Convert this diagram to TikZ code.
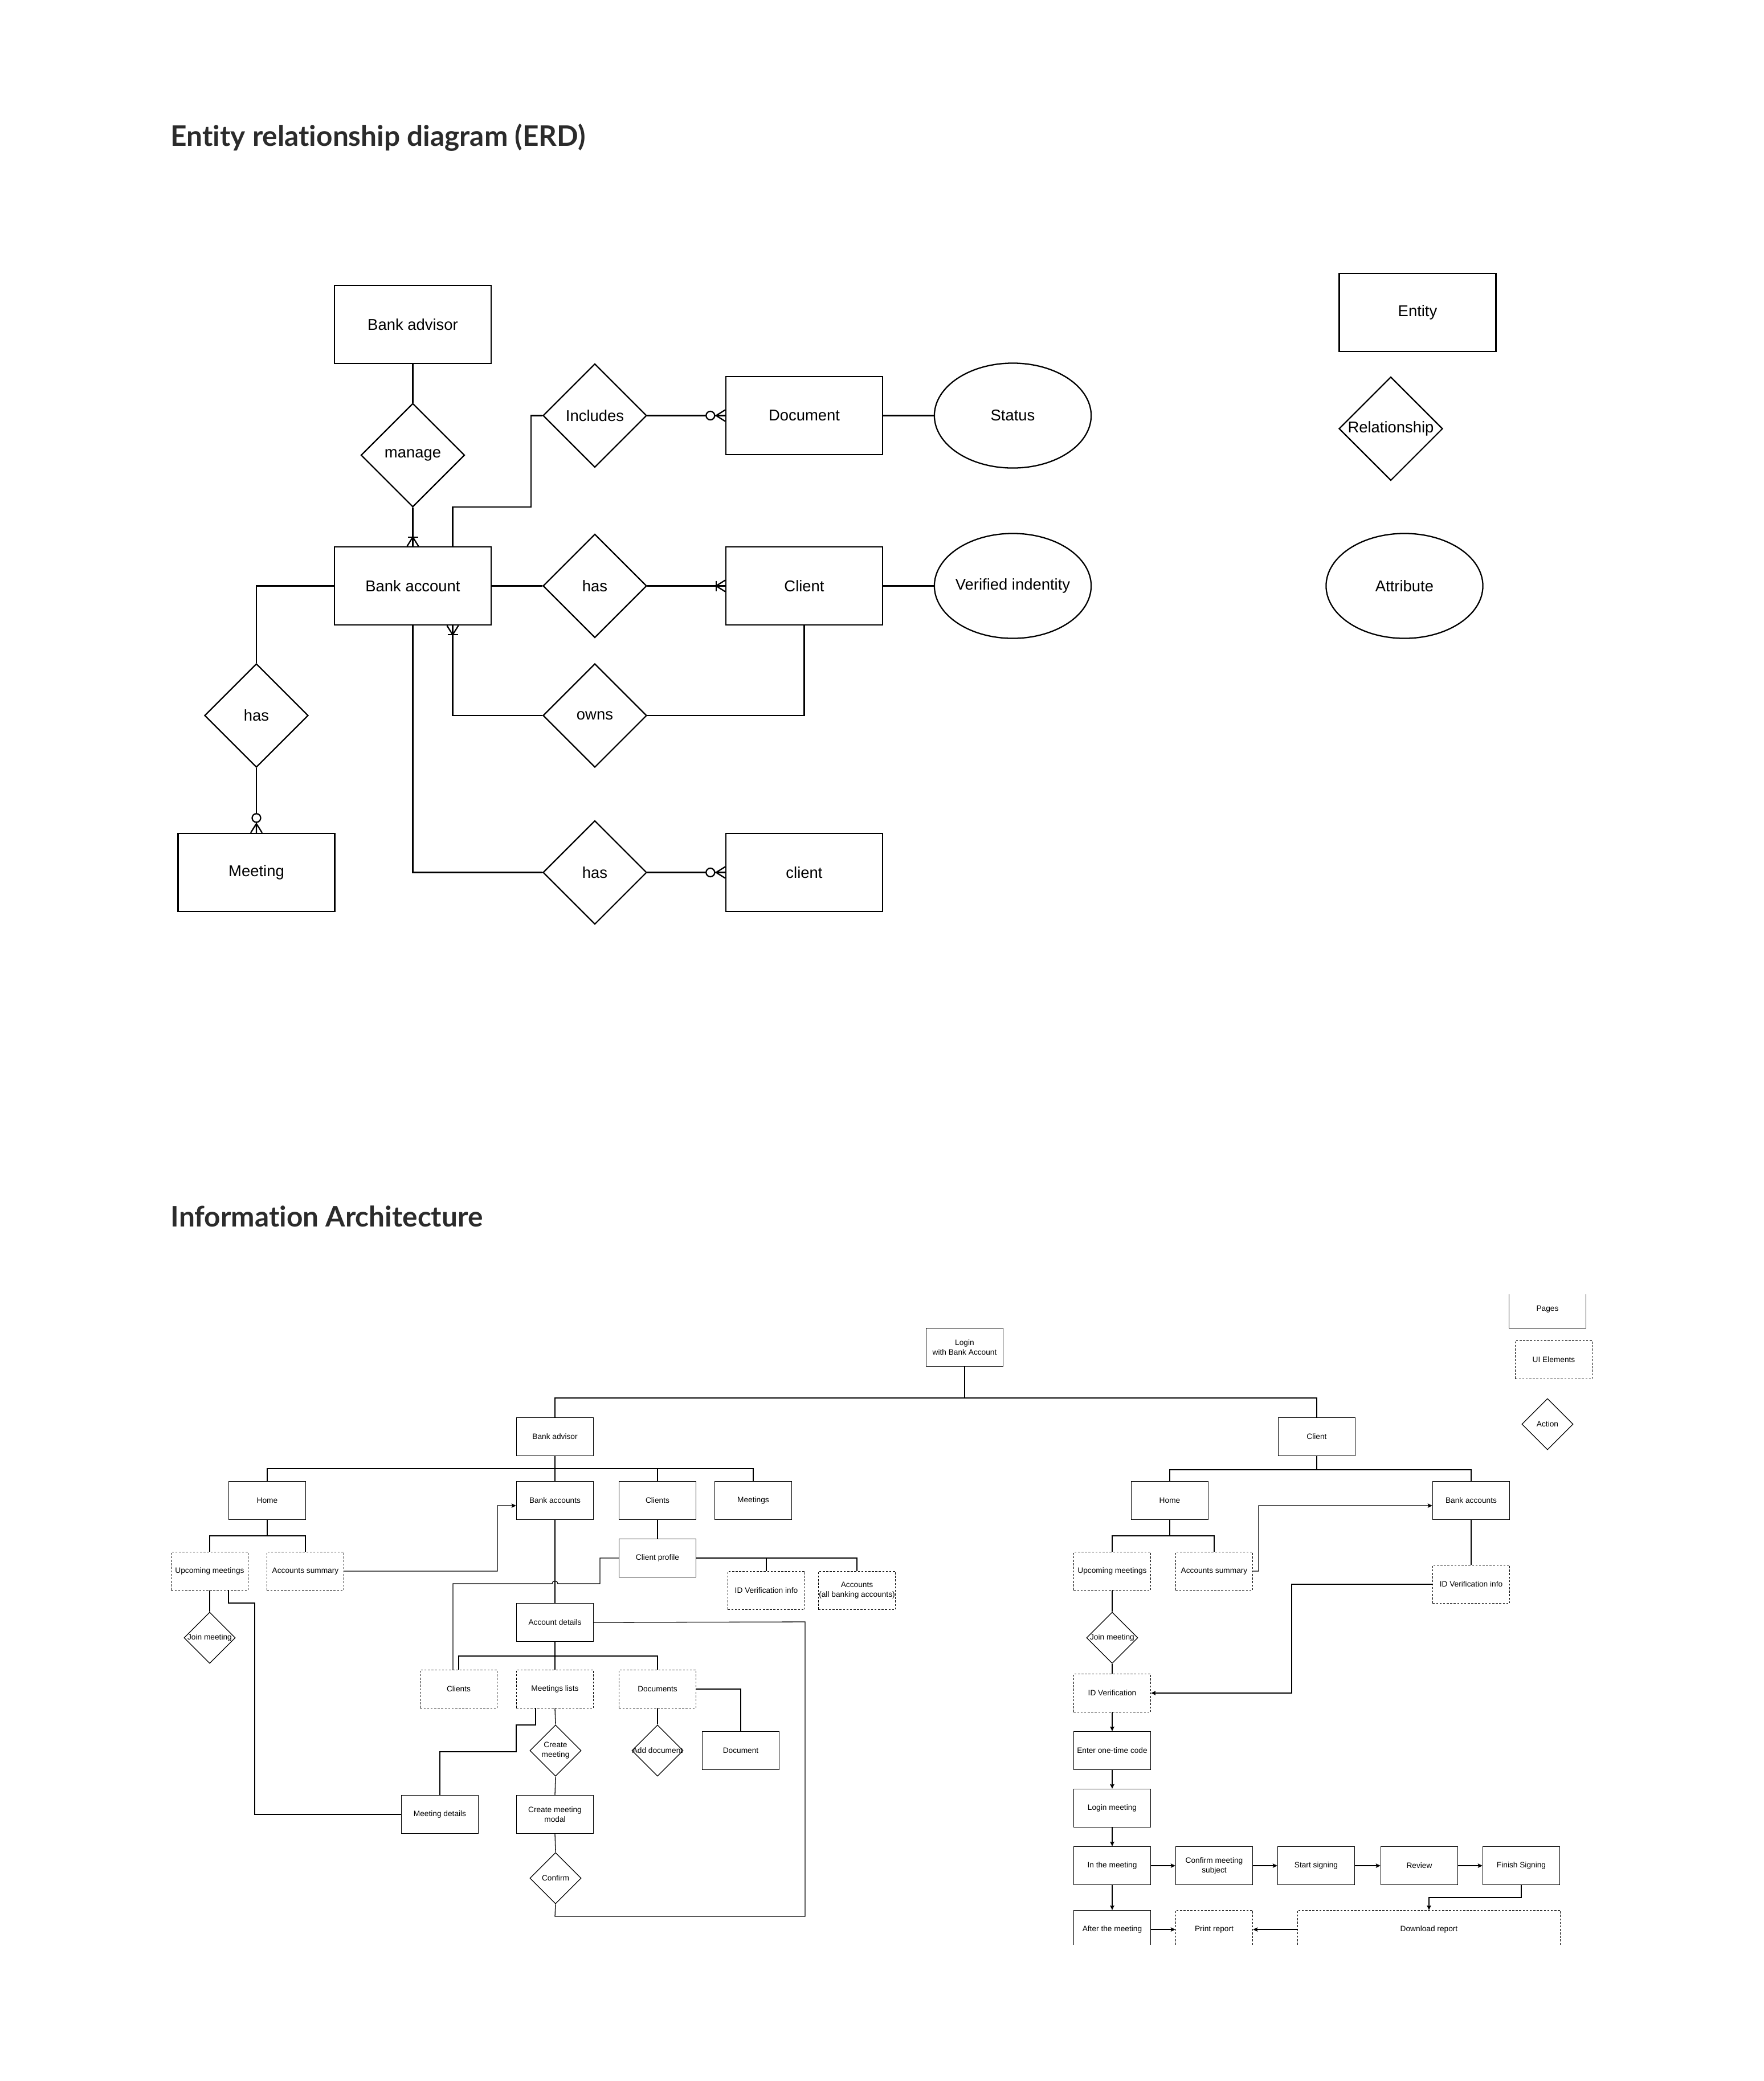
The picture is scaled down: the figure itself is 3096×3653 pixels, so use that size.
\documentclass[tikz,border=0pt]{standalone}
\usepackage{fontspec}
\setmainfont{Liberation Sans}
\newfontfamily\titlefont{Lato}[Ligatures=NoCommon]
\usetikzlibrary{shapes.geometric,arrows.meta,calc}
\newcommand{\zw}[1]{\makebox[0pt]{#1}}
\definecolor{titlegray}{HTML}{2B2B2B}
\begin{document}
\begin{tikzpicture}[x=0.01cm,y=-0.01cm,
 erdline/.style={line width=0.65pt},
 erdfont/.style={font=\fontsize{7.8pt}{9.4pt}\selectfont},
 ent/.style={draw, line width=0.65pt, minimum width=2.75cm, minimum height=1.37cm, inner sep=0pt, erdfont},
 rel/.style={draw, line width=0.65pt, diamond, minimum width=1.82cm, minimum height=1.82cm, inner sep=0pt, erdfont},
 att/.style={draw, line width=0.65pt, ellipse, minimum width=2.75cm, minimum height=1.84cm, inner sep=0pt, erdfont},
 ia/.style={line width=0.37pt},
 iarr/.style={ia, -{Stealth[length=0.08cm,width=0.075cm,inset=0.012cm]}},
 iafont/.style={font=\fontsize{3.9pt}{4.85pt}\selectfont},
 page/.style={draw, line width=0.37pt, minimum width=1.35cm, minimum height=0.67cm, inner sep=0pt, align=center, iafont},
 uiel/.style={page, dash pattern=on 1pt off 0.75pt},
 act/.style={draw, diamond, line width=0.37pt, minimum width=0.9cm, minimum height=0.9cm, inner sep=0pt, iafont},
 ttl/.style={anchor=base west, inner sep=0pt, font=\titlefont\bfseries\fontsize{14.1pt}{17pt}\selectfont, text=titlegray},
 crow/.pic={\draw[erdline] (0,-10) -- (-16,0) -- (0,10) (-16,0) -- (0,0);},
 onebar/.pic={\draw[erdline] (-16,-9) -- (-16,9);},
 zcirc/.pic={\draw[erdline, fill=white] (-26,0) circle[radius=7.5];}
]
\fill[white] (0,0) rectangle (3096,3653);
\useasboundingbox (0,0) rectangle (3096,3653);

% ---------------- Titles ----------------
\node[ttl] (t1) at (299,256) {Entity relationship diagram (ERD)};
\node[ttl] (t2) at (299,2153) {Information Architecture};

% ---------------- ERD ----------------
\node[ent] (badv0) at (724.5,569.5) {Bank advisor};
\node[rel] (manage) at (724.5,799) {\zw{manage}};
\node[ent] (bacc) at (724.5,1028.5) {Bank account};
\node[rel] (incl) at (1044,729.5) {\zw{Includes}};
\node[ent] (docE) at (1411.5,729.5) {Document};
\node[att] (status) at (1777.5,729.5) {\zw{Status}};
\node[rel] (hasR) at (1044,1028.5) {\zw{has}};
\node[ent] (clientE) at (1411.5,1028.5) {Client};
\node[att] (verif) at (1777.5,1028.5) {\zw{Verified indentity}};
\node[rel] (owns) at (1044,1256) {\zw{owns}};
\node[rel] (hasL) at (450,1256) {\zw{has}};
\node[ent] (meetE) at (450,1531.5) {Meeting};
\node[rel] (hasB) at (1044,1531.5) {\zw{has}};
\node[ent] (client2) at (1411.5,1531.5) {client};
% legend
\node[ent] (entL) at (2488,548.5) {Entity};
\node[rel] (relL) at (2441,752.5) {\zw{Relationship}};
\node[att] (attL) at (2465,1028.5) {\zw{Attribute}};

\draw[erdline] (badv0.south) -- (manage.north);
\draw[erdline] (manage.south) -- (bacc.north);
\pic[rotate=-90] at (bacc.north) {crow};
\pic[rotate=-90] at (bacc.north) {onebar};
\draw[erdline] ($(bacc.north)+(70,0)$) |- (932,890) |- (incl.west);
\draw[erdline] (incl.east) -- (docE.west);
\pic at (docE.west) {crow};
\pic at (docE.west) {zcirc};
\draw[erdline] (docE.east) -- (status.west);
\draw[erdline] (bacc.east) -- (hasR.west);
\draw[erdline] (hasR.east) -- (clientE.west);
\pic at (clientE.west) {crow};
\pic at (clientE.west) {onebar};
\draw[erdline] (clientE.east) -- (verif.west);
\draw[erdline] (clientE.south) |- (owns.east);
\draw[erdline] (owns.west) -| ($(bacc.south)+(70,0)$);
\pic[rotate=90] at ($(bacc.south)+(70,0)$) {crow};
\pic[rotate=90] at ($(bacc.south)+(70,0)$) {onebar};
\draw[erdline] (bacc.west) -| (hasL.north);
\draw[erdline] (hasL.south) -- (meetE.north);
\pic[rotate=-90] at (meetE.north) {crow};
\pic[rotate=-90] at (meetE.north) {zcirc};
\draw[erdline] (bacc.south) |- (hasB.west);
\draw[erdline] (hasB.east) -- (client2.west);
\pic at (client2.west) {crow};
\pic at (client2.west) {zcirc};

% ---------------- Information Architecture ----------------
\begin{scope}
\clip (0,2272) rectangle (3096,3413);
\node[page] (login) at (1693,2365) {Login\\with Bank Account};
\node[page] (badv) at (974,2522) {Bank advisor};
\node[page] (clnt) at (2311,2522) {Client};
% advisor branch
\node[page] (home1) at (469,2634) {Home};
\node[page] (bacc1) at (974,2634) {Bank accounts};
\node[page] (clients1) at (1154,2634) {Clients};
\node[page] (meet1) at (1322,2634) {Meetings};
\node[uiel] (upm1) at (368,2758) {Upcoming meetings};
\node[uiel] (accs1) at (536,2758) {Accounts summary};
\node[act] (join1) at (368,2875) {\zw{Join meeting}};
\node[page] (cprof) at (1154,2735) {Client profile};
\node[uiel] (idvi1) at (1345,2792) {ID Verification info};
\node[uiel] (accts) at (1504,2792) {Accounts\\(all banking accounts)};
\node[page] (accd) at (974,2848) {Account details};
\node[uiel] (cl2) at (805,2965) {Clients};
\node[uiel] (mlist) at (974,2965) {Meetings lists};
\node[uiel] (docs) at (1154,2965) {Documents};
\node[act] (crm) at (975,3073) {\zw{\begin{tabular}{@{}c@{}}Create\\meeting\end{tabular}}};
\node[act] (adddoc) at (1154,3073) {\zw{Add document}};
\node[page] (doc) at (1300,3073) {Document};
\node[page] (mdet) at (772,3185) {Meeting details};
\node[page] (crmm) at (974,3185) {Create meeting\\modal};
\node[act] (conf) at (975,3297) {\zw{Confirm}};
% client branch
\node[page] (home2) at (2053,2634) {Home};
\node[page] (bacc2) at (2582,2634) {Bank accounts};
\node[uiel] (upm2) at (1952,2758) {Upcoming meetings};
\node[uiel] (accs2) at (2131,2758) {Accounts summary};
\node[uiel] (idvi2) at (2582,2781) {ID Verification info};
\node[act] (join2) at (1952,2875) {\zw{Join meeting}};
\node[uiel] (idv) at (1952,2972) {ID Verification};
\node[page] (otc) at (1952,3073) {Enter one-time code};
\node[page] (lmeet) at (1952,3174) {Login meeting};
\node[page] (inm) at (1952,3275) {In the meeting};
\node[page] (cms) at (2131,3275) {Confirm meeting\\subject};
\node[page] (ssign) at (2310,3275) {Start signing};
\node[page] (rev) at (2491,3275) {Review};
\node[page] (fsign) at (2670,3275) {Finish Signing};
\node[page] (aftm) at (1952,3387) {After the meeting};
\node[uiel] (prnt) at (2131,3387) {Print report};
\node[uiel, minimum width=4.61cm] (dl) at (2508,3387) {Download report};
% legend
\node[page] (lpages) at (2716,2298) {Pages};
\node[uiel] (lui) at (2727,2387) {UI Elements};
\node[act] (lact) at (2716,2500) {\zw{Action}};

% connectors
\draw[ia] (login.south) -- (1693,2454) -| (badv.north);
\draw[ia] (1693,2454) -| (clnt.north);
\draw[ia] (badv.south) -- (974,2578) -| (home1.north);
\draw[ia] (974,2578) -| (meet1.north);
\draw[ia] (974,2578) -- (bacc1.north);
\draw[ia] (clients1.north) -- (1154,2578);
\draw[ia] (home1.south) -- (469,2696) -| (upm1.north);
\draw[ia] (469,2696) -| (accs1.north);
\draw[ia] (upm1.south) -- (join1.north);
\draw[ia] ($(upm1.south)+(33,0)$) |- (447,2814) |- (mdet.west);
\draw[iarr] (accs1.east) -| (873,2643) -- ([yshift=-0.09cm]bacc1.west);
\draw[ia] (bacc1.south) -- (accd.north);
\draw[ia] (clients1.south) -- (cprof.north);
\draw[ia] (cprof.west) -- (1053,2735) -- (1053,2780) -- (979,2780)
  arc[start angle=0,end angle=-180,radius=5] -- (795,2780) -- ($(cl2.north)+(-10,0)$);
\draw[ia] (cprof.east) -| (accts.north);
\draw[ia] (1345,2735) -- (idvi1.north);
\draw[ia] (accd.east) -- (1413,2847) |- (974,3364) -- (conf.south);
\draw[ia] (accd.south) -- (974,2907) -| (cl2.north);
\draw[ia] (974,2907) -| (docs.north);
\draw[ia] (974,2907) -- (mlist.north);
\draw[ia] (docs.east) -| (doc.north);
\draw[ia] (docs.south) -- (adddoc.north);
\draw[ia] (mlist.south) -- (crm.north);
\draw[ia] ($(mlist.south)+(-34,0)$) |- (906,3028) |- (772,3075) -- (mdet.north);
\draw[ia] (crm.south) -- (crmm.north);
\draw[ia] (crmm.south) -- (conf.north);

\draw[ia] (clnt.south) -- (2311,2580) -| (home2.north);
\draw[ia] (2311,2580) -| (bacc2.north);
\draw[ia] (home2.south) -- (2053,2696) -| (upm2.north);
\draw[ia] (2053,2696) -| (accs2.north);
\draw[iarr] (accs2.east) -| (2209,2643) -- ([yshift=-0.09cm]bacc2.west);
\draw[ia] (bacc2.south) -- (idvi2.north);
\draw[iarr] (idvi2.west) -| (2267,2972) -- (idv.east);
\draw[ia] (upm2.south) -- (join2.north);
\draw[ia] (join2.south) -- (idv.north);
\draw[iarr] (idv.south) -- (otc.north);
\draw[iarr] (otc.south) -- (lmeet.north);
\draw[iarr] (lmeet.south) -- (inm.north);
\draw[iarr] (inm.south) -- (aftm.north);
\draw[iarr] (inm.east) -- (cms.west);
\draw[iarr] (cms.east) -- (ssign.west);
\draw[iarr] (ssign.east) -- (rev.west);
\draw[iarr] (rev.east) -- (fsign.west);
\draw[iarr] (fsign.south) -- (2670,3331) -| (dl.north);
\draw[iarr] (aftm.east) -- (prnt.west);
\draw[iarr] (dl.west) -- (prnt.east);
\end{scope}
\end{tikzpicture}
\end{document}
